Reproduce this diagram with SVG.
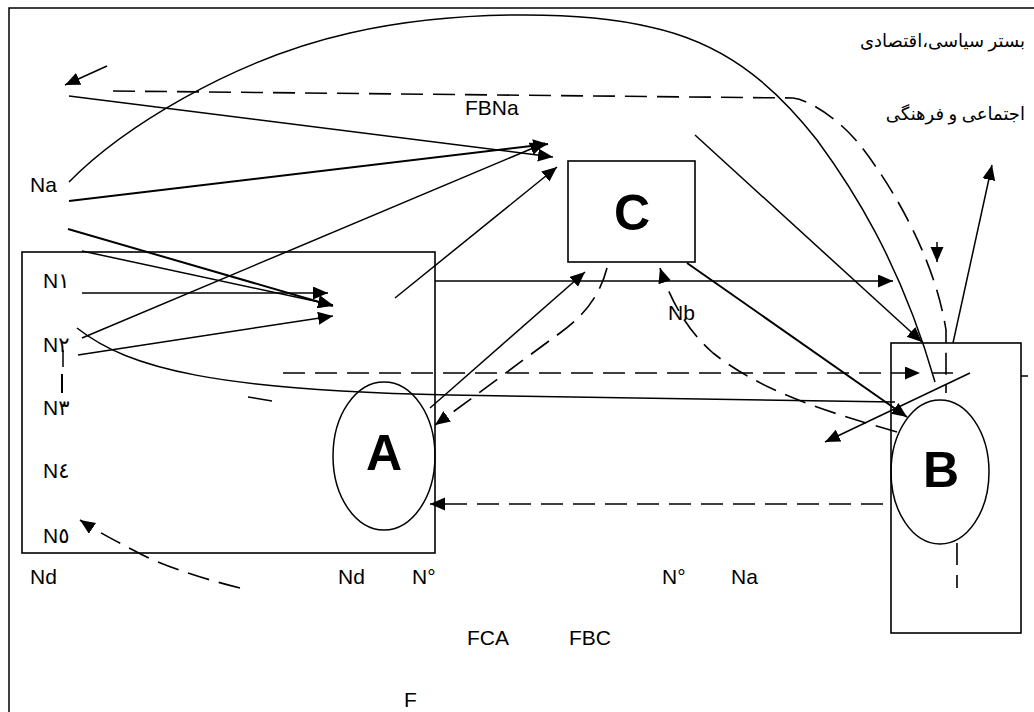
<svg xmlns="http://www.w3.org/2000/svg" width="1034" height="712" viewBox="0 0 1034 712">
<style>
.ln{fill:none;stroke:#000;stroke-width:1.5}
.th{fill:none;stroke:#000;stroke-width:2}
.ds{fill:none;stroke:#000;stroke-width:1.6;stroke-dasharray:22 10}
.box{fill:#fff;stroke:#000;stroke-width:1.6}
.el{fill:none;stroke:#000;stroke-width:1.5}
.lbl{font-family:"Liberation Sans","DejaVu Sans",sans-serif;font-size:21px;fill:#000}
.big{font-family:"Liberation Sans",sans-serif;font-size:50px;font-weight:bold;fill:#000;text-anchor:middle}
.fa{font-family:"Liberation Serif","DejaVu Sans",serif;font-size:18px;fill:#000;text-anchor:end}
</style>
<defs>
<marker id="ah" markerUnits="userSpaceOnUse" markerWidth="16" markerHeight="14" refX="15" refY="6.5" orient="auto">
<path d="M0,0 L15,6.5 L0,13 z" fill="#000"/>
</marker>
</defs>
<rect width="1034" height="712" fill="#fff"/>
<g id="frame">
<path class="ln" d="M9,712 L9,8 L1034,8" stroke-width="1.8"/>
<text class="fa" x="1025" y="47">بستر سیاسی،اقتصادی</text>
<text class="fa" x="1025" y="120">اجتماعی و فرهنگی</text>
</g>
<g id="node-left">
<rect class="box" x="22" y="252" width="413" height="301"/>
<text class="lbl" x="43" y="288">N١</text>
<text class="lbl" x="43" y="352">N٢</text>
<text class="lbl" x="43" y="415">N٣</text>
<text class="lbl" x="43" y="478">N٤</text>
<text class="lbl" x="43" y="543">N٥</text>
</g>
<g id="node-A">
<ellipse class="el" cx="384" cy="456" rx="51" ry="74"/>
<text class="big" x="384" y="470">A</text>
</g>
<g id="node-C">
<rect class="box" x="568" y="161" width="127" height="101"/>
<text class="big" x="632" y="230">C</text>
</g>
<g id="node-B">
<rect class="box" x="891" y="343" width="130" height="290"/>
<ellipse class="el" cx="940" cy="472" rx="49" ry="72"/>
<text class="big" x="941" y="487">B</text>
</g>
<g id="connectors">
<path class="ln" d="M69,182 C120,130 230,60 350,33 C450,10 580,10 650,27 C720,42 770,80 817,140 C850,185 900,260 935,382"/>
<path class="ds" d="M113,91 L793,98 C810,100 840,120 860,145 C895,190 935,260 946,330 L946,393"/>
<path class="ln" d="M937,242 L937,262" marker-end="url(#ah)"/>
<path class="ln" d="M107,66 L65,85" marker-end="url(#ah)"/>
<path class="ln" d="M69,96 L553,157" marker-end="url(#ah)"/>
<path class="th" d="M69,201 L548,144" marker-end="url(#ah)"/>
<path class="ln" d="M82,338 L545,143" marker-end="url(#ah)"/>
<path class="ln" d="M395,298 L557,167" marker-end="url(#ah)"/>
<path class="th" d="M68,229 L333,306" marker-end="url(#ah)"/>
<path class="ln" d="M82,251 L333,305" marker-end="url(#ah)"/>
<path class="ln" d="M82,293 L328,293" marker-end="url(#ah)"/>
<path class="ln" d="M78,355 L333,316" marker-end="url(#ah)"/>
<path class="ln" d="M435,281 L893,281" marker-end="url(#ah)"/>
<path class="ln" d="M695,135 L922,342" stroke-width="1.2" marker-end="url(#ah)"/>
<path class="ln" d="M953,343 L992,165" marker-end="url(#ah)"/>
<path class="ds" d="M283,373 L920,373" marker-end="url(#ah)"/>
<path class="ln" d="M933,373 L953,373" stroke-width="1.6"/>
<path class="ln" d="M970,373 L825,442" marker-end="url(#ah)"/>
<path class="th" d="M687,263 L907,417" marker-end="url(#ah)"/>
<path class="ln" d="M77,328 C130,370 220,390 450,395 L895,402"/>
<path class="ds" d="M897,432 C820,410 760,390 713,353 C690,333 672,305 660,268" marker-end="url(#ah)"/>
<path class="ds" d="M883,504 L430,504" marker-end="url(#ah)"/>
<path class="ln" d="M430,408 L585,272" marker-end="url(#ah)"/>
<path class="ds" d="M607,268 C600,295 585,315 560,333 C520,362 470,400 435,425" marker-end="url(#ah)"/>
<path class="ds" d="M240,588 C200,578 160,565 133,550 C110,538 95,530 80,520" marker-end="url(#ah)"/>
<path class="ds" d="M957,543 L957,588"/>
<path class="ln" d="M1021,376 L1028,376"/>
<path class="ln" d="M63,350 L63,367"/>
<path class="th" d="M62,374 L62,393"/>
<path class="ln" d="M248,397 L272,401"/>
</g>
<g id="labels">
<text class="lbl" x="30" y="192">Na</text>
<text class="lbl" x="465" y="115">FBNa</text>
<text class="lbl" x="668" y="320">Nb</text>
<text class="lbl" x="30" y="584">Nd</text>
<text class="lbl" x="338" y="584">Nd</text>
<text class="lbl" x="412" y="584">N°</text>
<text class="lbl" x="662" y="584">N°</text>
<text class="lbl" x="731" y="584">Na</text>
<text class="lbl" x="467" y="645">FCA</text>
<text class="lbl" x="569" y="645">FBC</text>
<text class="lbl" x="404" y="707">F</text>
</g>
</svg>
